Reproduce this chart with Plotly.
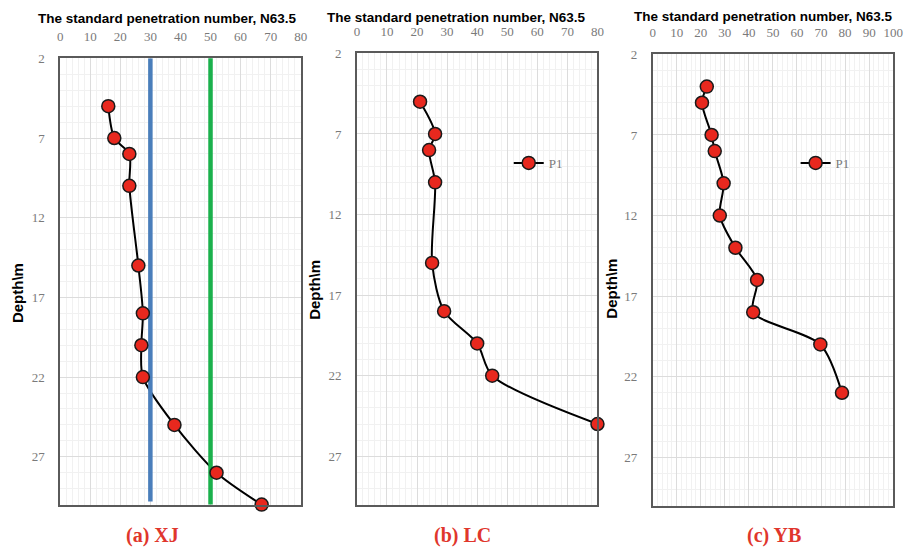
import plotly.graph_objects as go

W, H = 918, 550

# ---- data ----
xj_n = [16, 18, 23, 23, 26, 27.5, 27, 27.5, 38, 52, 67]
xj_depth = [5, 7, 8, 10, 15, 18, 20, 22, 25, 28, 30]

lc_n = [21, 26, 24, 26, 25, 29, 40, 45, 80]
lc_depth = [5, 7, 8, 10, 15, 18, 20, 22, 25]

yb_n = [22.5, 20.5, 24.5, 25.8, 29.5, 27.9, 34.4, 43.4, 41.8, 69.7, 78.7]
yb_depth = [4, 5, 7, 8, 10, 12, 14, 16, 18, 20, 23]

ref_blue_n = [30, 30]
ref_blue_depth = [2.0, 29.8]
ref_green_n = [50, 50]
ref_green_depth = [1.85, 30.4]

x_ranges = [[0, 80], [0, 80], [0, 100]]
y_range = [30, 2]
y_ticks = [2, 7, 12, 17, 22, 27]
captions = ["(a) XJ", "(b) LC", "(c) YB"]
axis_title = "The standard penetration number, N63.5"
depth_title = "Depth\\m"

# ---- layout geometry (pixels) ----
px_x = [(58, 302), (359, 603), (659, 903)]
px_y = [(52, 504), (47, 504), (48, 505)]


def fx(p):
    return p / W


def fy(p):
    return 1 - p / H


fig = go.Figure()

marker = dict(size=13, color="#e8281e", line=dict(color="#1a1a1a", width=1.5))
line = dict(color="#000000", width=2, shape="spline", smoothing=0.8)

fig.add_trace(go.Scatter(x=xj_n, y=xj_depth, mode="lines", line=line,
                         xaxis="x", yaxis="y", showlegend=False, cliponaxis=False))
fig.add_trace(go.Scatter(x=ref_blue_n, y=ref_blue_depth, mode="lines",
                         line=dict(color="#4a7ebb", width=4.5), xaxis="x", yaxis="y",
                         showlegend=False, cliponaxis=False))
fig.add_trace(go.Scatter(x=ref_green_n, y=ref_green_depth, mode="lines",
                         line=dict(color="#1bb14c", width=4.5), xaxis="x", yaxis="y",
                         showlegend=False, cliponaxis=False))
fig.add_trace(go.Scatter(x=xj_n, y=xj_depth, mode="markers", marker=marker,
                         xaxis="x", yaxis="y", showlegend=False, cliponaxis=False))

fig.add_trace(go.Scatter(x=lc_n, y=lc_depth, mode="lines+markers", marker=marker,
                         line=line, xaxis="x2", yaxis="y2", name="P1",
                         legend="legend", cliponaxis=False))
fig.add_trace(go.Scatter(x=yb_n, y=yb_depth, mode="lines+markers", marker=marker,
                         line=line, xaxis="x3", yaxis="y3", name="P1",
                         legend="legend2", cliponaxis=False))

tick_font = dict(family="Liberation Serif", size=13, color="#7a7a7a")
axis_common = dict(showline=True, mirror=True, linecolor="#5a5a5a", linewidth=1.5,
                   showgrid=True, gridcolor="#dcdcdc", gridwidth=1, zeroline=False,
                   ticks="", tickfont=tick_font)

layout = dict(width=W, height=H, margin=dict(l=0, r=0, t=0, b=0),
              paper_bgcolor="white", plot_bgcolor="white")

for i in range(3):
    s = "" if i == 0 else str(i + 1)
    layout["xaxis" + s] = dict(
        axis_common, domain=[fx(px_x[i][0]), fx(px_x[i][1])], range=x_ranges[i],
        side="top", dtick=10, tick0=0, anchor="y" + s,
        minor=dict(dtick=2, showgrid=True, gridcolor="#f1f1f1", gridwidth=1),
        ticklabelstandoff=10)
    layout["yaxis" + s] = dict(
        axis_common, domain=[fy(px_y[i][1]), fy(px_y[i][0])], range=y_range,
        tickvals=y_ticks, anchor="x" + s,
        minor=dict(dtick=1, showgrid=True, gridcolor="#f1f1f1", gridwidth=1),
        ticklabelstandoff=11)

legend_common = dict(font=dict(family="Liberation Serif", size=13, color="#7a7a7a"),
                     bgcolor="rgba(0,0,0,0)", borderwidth=0, itemwidth=30,
                     xanchor="left", yanchor="middle", tracegroupgap=0)
layout["legend"] = dict(legend_common, x=fx(513), y=fy(158))
layout["legend2"] = dict(legend_common, x=fx(804), y=fy(158))

annotations = []
title_cx = [167, 460, 771]
title_cy = [12, 11, 10]
depth_cx = [15, 316, 617]
depth_cy = [290, 287, 285]
cap_cx = [152, 466, 782]
for i in range(3):
    annotations.append(dict(text="<b>" + axis_title + "</b>", x=fx(title_cx[i]),
                            y=fy(title_cy[i]), xref="paper", yref="paper",
                            showarrow=False, xanchor="center", yanchor="middle",
                            font=dict(family="Liberation Sans", size=13.5, color="#000")))
    annotations.append(dict(text="<b>" + depth_title + "</b>", x=fx(depth_cx[i]),
                            y=fy(depth_cy[i]), xref="paper", yref="paper",
                            showarrow=False, xanchor="center", yanchor="middle",
                            textangle=-90,
                            font=dict(family="Liberation Sans", size=15, color="#000")))
    annotations.append(dict(text="<b>" + captions[i] + "</b>", x=fx(cap_cx[i]),
                            y=fy(535), xref="paper", yref="paper",
                            showarrow=False, xanchor="center", yanchor="middle",
                            font=dict(family="Liberation Serif", size=20,
                                      color="#e0362c")))
layout["annotations"] = annotations

fig.update_layout(**layout)
fig.write_html("out.html")
